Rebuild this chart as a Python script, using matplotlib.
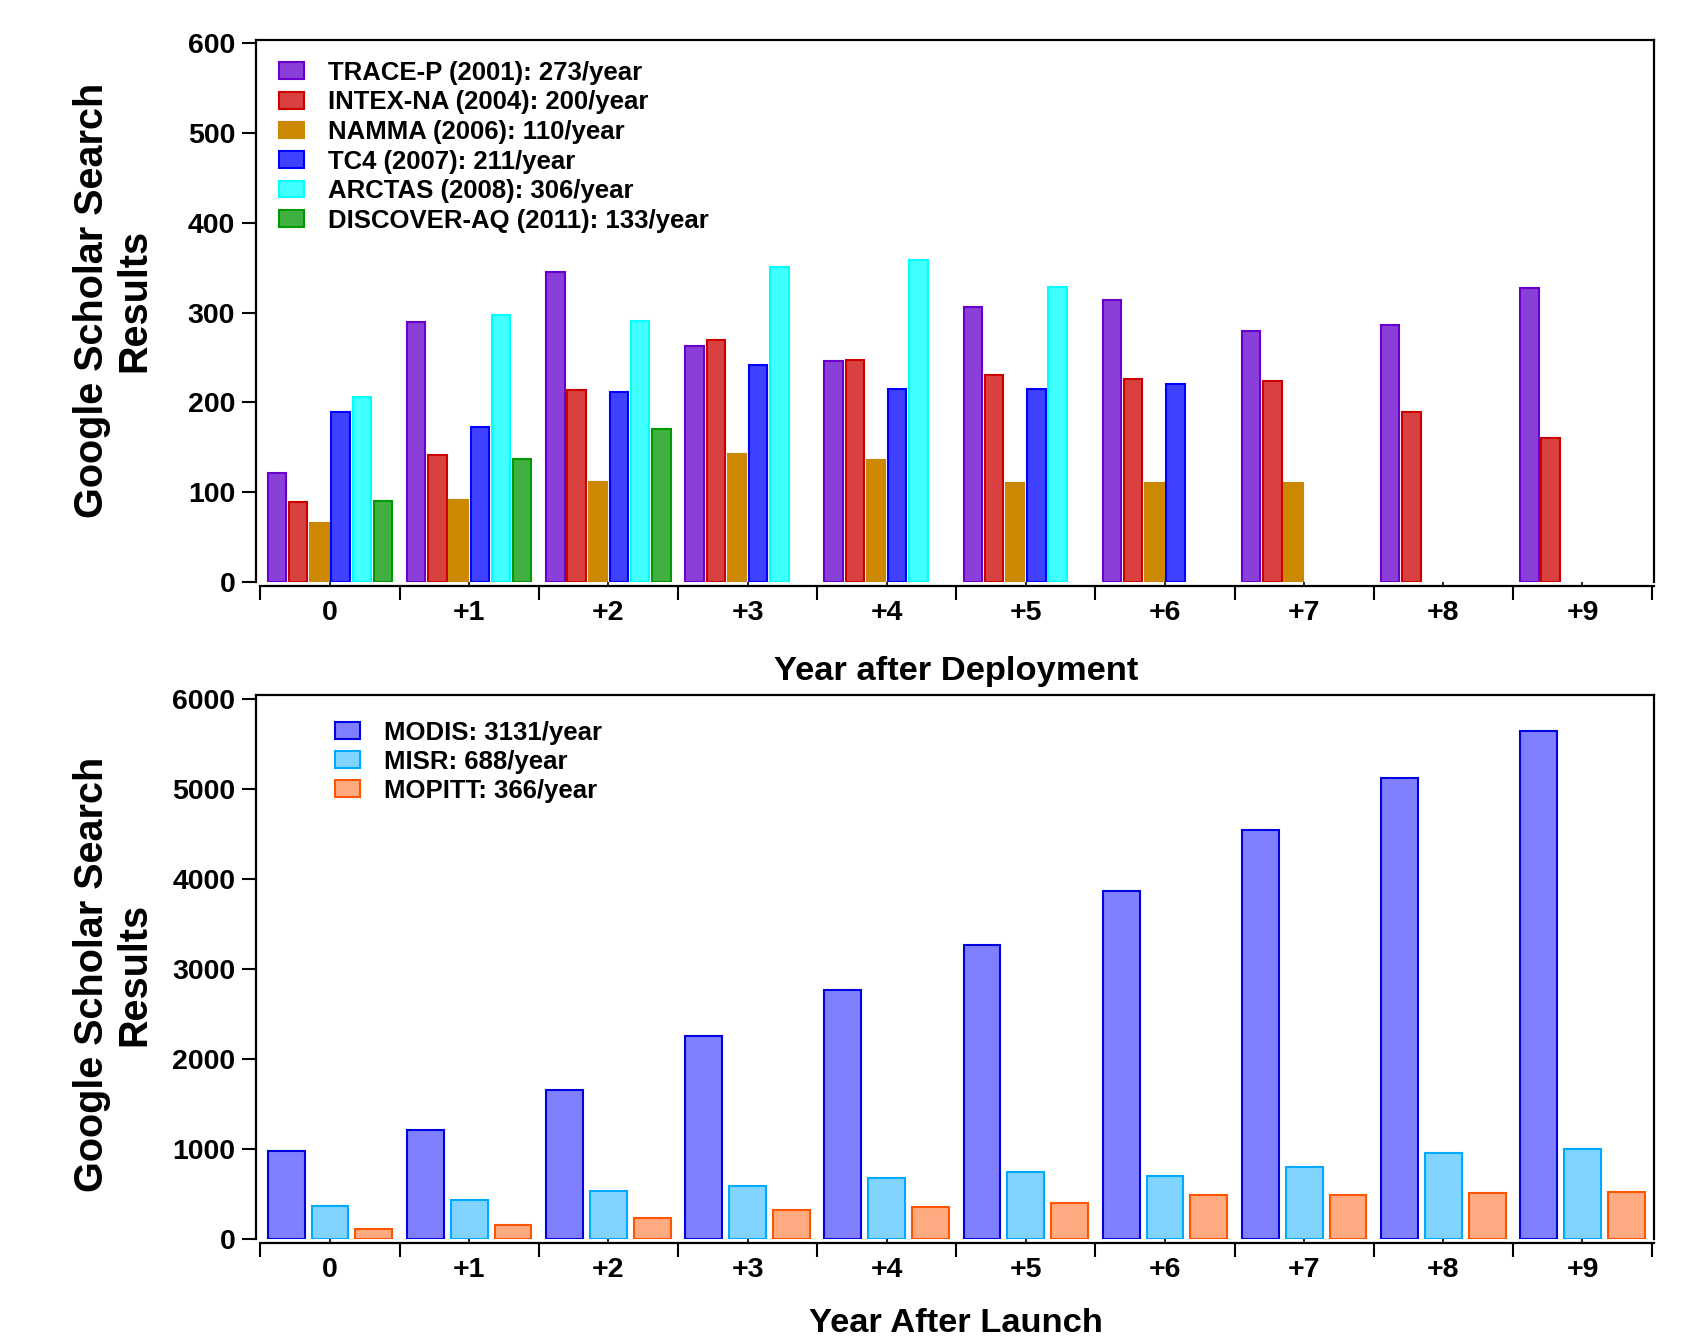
import numpy as np
import matplotlib
matplotlib.use("Agg")
import matplotlib.pyplot as plt
from matplotlib.ticker import FixedLocator, NullFormatter, FixedFormatter

plt.rcParams['font.family'] = ['Liberation Sans', 'DejaVu Sans']
plt.rcParams['font.weight'] = 'bold'

# ---------------- data ----------------
year_labels = ["0", "+1", "+2", "+3", "+4", "+5", "+6", "+7", "+8", "+9"]

campaign_names = ["TRACE-P (2001): 273/year", "INTEX-NA (2004): 200/year",
                  "NAMMA (2006): 110/year", "TC4 (2007): 211/year",
                  "ARCTAS (2008): 306/year", "DISCOVER-AQ (2011): 133/year"]
trace_p = [121, 289, 345, 263, 246, 306, 314, 279, 286, 327]
intex_na = [89, 141, 214, 269, 247, 230, 226, 224, 189, 160]
namma = [66, 91, 111, 142, 136, 110, 110, 110, None, None]
tc4 = [189, 173, 212, 242, 215, 215, 221, None, None, None]
arctas = [206, 297, 291, 351, 359, 329, None, None, None, None]
discover_aq = [90, 137, 170, None, None, None, None, None, None, None]

sat_names = ["MODIS: 3131/year", "MISR: 688/year", "MOPITT: 366/year"]
modis = [980, 1209, 1657, 2255, 2769, 3268, 3861, 4543, 5122, 5645]
misr = [365, 435, 528, 590, 678, 745, 705, 800, 955, 1000]
mopitt = [108, 160, 235, 318, 356, 403, 487, 487, 510, 520]

# ---------------- styles ----------------
top_fill = ["#8B3FD9", "#D94040", "#CC8800", "#4040FF", "#40FFFF", "#40B040"]
top_edge = ["#6A00CC", "#CC0000", "#CC8800", "#0000FF", "#00FFFF", "#009900"]
bot_fill = ["#8080FF", "#80D4FF", "#FFAA80"]
bot_edge = ["#0000E0", "#00AAFF", "#FF5500"]

W, H = 1695, 1338
fig = plt.figure(figsize=(W / 100, H / 100), dpi=100)

def px_axes(left, top, right, bottom):
    return fig.add_axes([left / W, 1 - bottom / H, (right - left) / W, (bottom - top) / H])

ax1 = px_axes(256, 40, 1654, 582)
ax2 = px_axes(256, 695, 1654, 1239)

x = np.arange(len(year_labels))

def style_axis(ax, ytop, yticks):
    ax.set_xlim(-0.532, 9.514)
    ax.set_ylim(0, ytop)
    for s in ax.spines.values():
        s.set_linewidth(1.6)
    ax.spines['bottom'].set_position(('outward', 3))
    ax.spines['bottom'].set_bounds(-0.5, 9.514)
    ax.xaxis.set_major_locator(FixedLocator(np.arange(-0.5, 10.0, 1.0)))
    ax.xaxis.set_major_formatter(NullFormatter())
    ax.xaxis.set_minor_locator(FixedLocator(x))
    ax.xaxis.set_minor_formatter(FixedFormatter(year_labels))
    ax.tick_params(axis='x', which='major', direction='out', length=10, width=1.5)
    ax.tick_params(axis='x', which='minor', direction='in', length=3, width=1.2,
                   labelsize=20.5, pad=10)
    ax.set_yticks(yticks)
    ax.tick_params(axis='y', direction='out', length=10, width=1.5, labelsize=20.5, pad=5)
    for lab in ax.get_xticklabels(minor=True) + ax.get_yticklabels():
        lab.set_fontweight('bold')

# top chart
top_series = [trace_p, intex_na, namma, tc4, arctas, discover_aq]
step, width = 0.1524, 0.132
for k, (vals, name) in enumerate(zip(top_series, campaign_names)):
    xs = [xi + (k - 2.5) * step for xi, v in zip(x, vals) if v is not None]
    vs = [v for v in vals if v is not None]
    ax1.bar(xs, vs, width=width, color=top_fill[k], edgecolor=top_edge[k],
            linewidth=1.5, label=name)
style_axis(ax1, 603.5, np.arange(0, 601, 100))

ax1.legend(loc='upper left', bbox_to_anchor=(0.0165, 0.962), frameon=False,
           prop={'size': 18.5, 'weight': 'bold'}, handlelength=0.98,
           handleheight=0.62, handletextpad=0.92, labelspacing=0.22,
           borderpad=0, borderaxespad=0)

# bottom chart
bot_series = [modis, misr, mopitt]
step2, width2 = 0.315, 0.264
for k, (vals, name) in enumerate(zip(bot_series, sat_names)):
    ax2.bar(x + (k - 1) * step2, vals, width=width2, color=bot_fill[k],
            edgecolor=bot_edge[k], linewidth=1.5, label=name)
style_axis(ax2, 6044, np.arange(0, 6001, 1000))

ax2.legend(loc='upper left', bbox_to_anchor=(0.0565, 0.953), frameon=False,
           prop={'size': 18.5, 'weight': 'bold'}, handlelength=0.98,
           handleheight=0.62, handletextpad=0.92, labelspacing=0.2,
           borderpad=0, borderaxespad=0)

# axis titles
fig.text(956 / W, 1 - 680 / H, "Year after Deployment", ha='center', va='baseline',
         fontsize=24.8, fontweight='bold')
fig.text(956 / W, 1 - 1332 / H, "Year After Launch", ha='center', va='baseline',
         fontsize=24.8, fontweight='bold')
for yc in (300, 974):
    fig.text(113 / W, 1 - yc / H, "Google Scholar Search\nResults", rotation=90,
             ha='center', va='center', multialignment='center', fontsize=28.5,
             fontweight='bold', linespacing=1.15)

fig.savefig("out.png", dpi=100)
